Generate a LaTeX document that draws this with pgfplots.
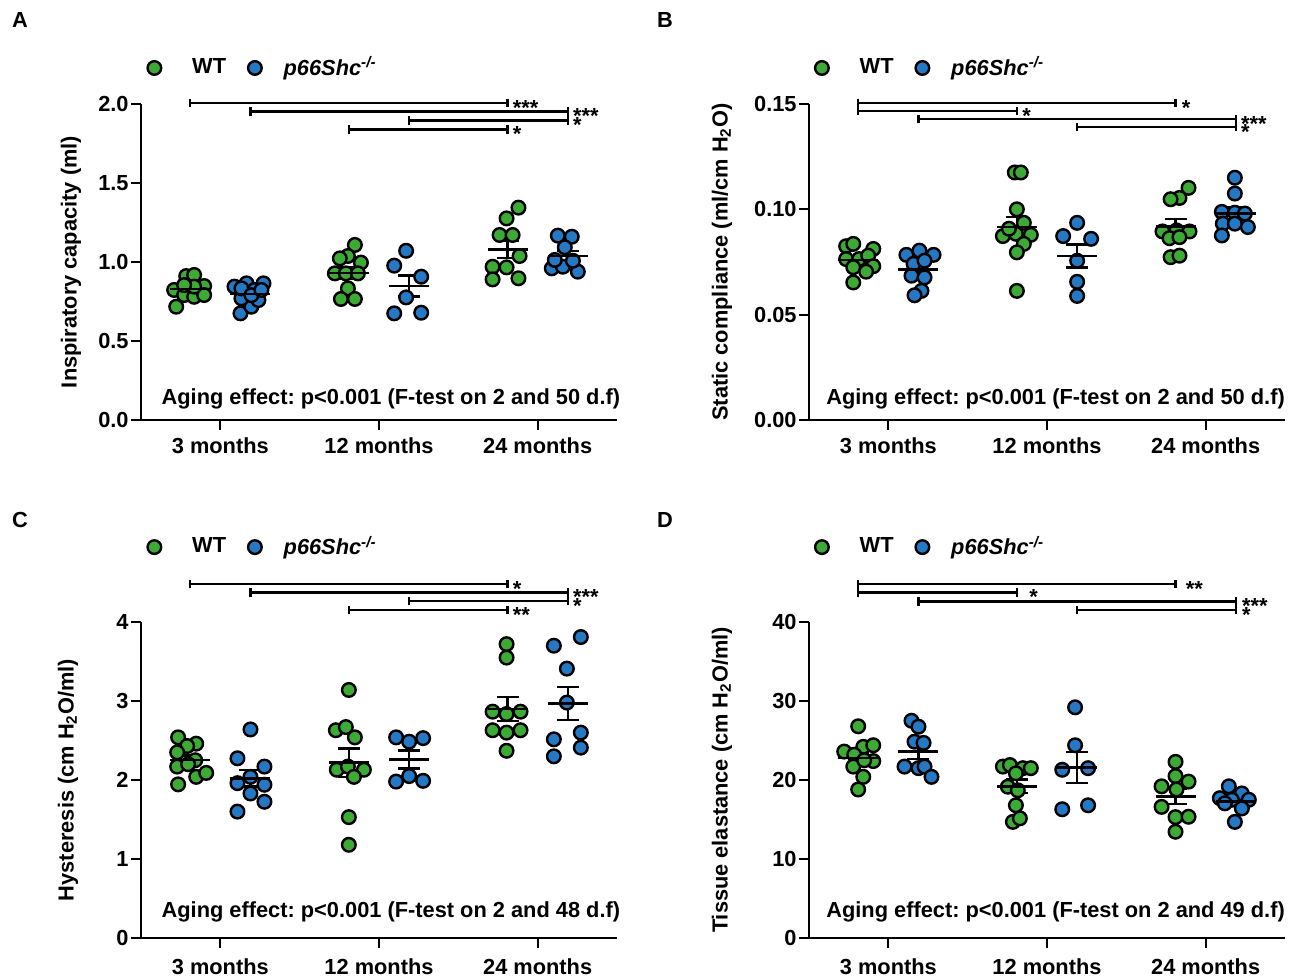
\documentclass[border=0pt]{standalone}
\usepackage{fontspec}
\setmainfont{Liberation Sans}
\usepackage{pgfplots}
\pgfplotsset{compat=1.18}

\definecolor{wtgreen}{RGB}{61,170,53}
\definecolor{koblue}{RGB}{36,120,196}

% significance bracket: x1, x2, y, stars, gap before stars
\newcommand{\sigbar}[5]{%
  \draw[line width=1.3pt] (axis cs:#1,#3) -- (axis cs:#2,#3);
  \draw[line width=1.2pt] ([yshift=-2.2pt]axis cs:#1,#3) -- ([yshift=2.2pt]axis cs:#1,#3);
  \draw[line width=1.2pt] ([yshift=-2.2pt]axis cs:#2,#3) -- ([yshift=2.2pt]axis cs:#2,#3);
  \node[anchor=west, inner sep=0pt, xshift=#5, yshift=-2.3pt] at (axis cs:#2,#3) {#4};}

\newcommand{\kolabel}{\hspace*{-4.5pt}\textit{p66Shc}\textsuperscript{\textit{-/-}}}

\pgfplotsset{
  panel/.style={
    scale only axis, width=238pt, height=158pt,
    xmin=0.5, xmax=3.5, ymin=0,
    axis lines*=left,
    axis line style={line width=1pt},
    tick align=outside, major tick length=5pt,
    tick style={line width=1pt, black},
    xtick={1,2,3}, xticklabels={3 months,12 months,24 months},
    /pgf/number format/assume math mode=true,
    tick label style={font=\bfseries},
    yticklabel style={inner sep=1pt},
    clip=false,
    legend columns=-1,
    legend style={draw=none, fill=none, inner sep=0pt, anchor=west,
      /tikz/every odd column/.append style={column sep=13.5pt},
      /tikz/every even column/.append style={column sep=9pt}},
  },
  wt/.style={only marks, mark=*, mark size=3.4pt, color=wtgreen,
    mark options={fill=wtgreen, draw=black, line width=1.2pt},
    legend image code/.code={\draw[##1] plot coordinates {(0pt,0pt)};}},
  ko/.style={only marks, mark=*, mark size=3.4pt, color=koblue,
    mark options={fill=koblue, draw=black, line width=1.2pt},
    legend image code/.code={\draw[##1] plot coordinates {(0pt,0pt)};}},
  meansem/.style={only marks, mark=-, mark size=10pt, black,
    mark options={black, line width=1.2pt},
    error bars/.cd, y dir=both, y explicit, error mark=-,
    error mark options={rotate=90, black, line width=1.2pt, mark size=5.5pt},
    error bar style={black, line width=1.2pt}},
}

\begin{document}
\frenchspacing
\fontsize{10.9}{13}\selectfont\bfseries
\begin{tikzpicture}
\path[use as bounding box] (0,0) rectangle (648pt,-490pt);
\node at (10pt,-10pt) {A};
\node at (332.5pt,-10pt) {B};
\node at (10pt,-260pt) {C};
\node at (332.5pt,-260pt) {D};

% ---------------- A ----------------
\begin{axis}[panel, at={(70.5pt,-210pt)}, anchor=south west,
  ymax=2, ytick={0,0.5,1,1.5,2},
  yticklabel style={/pgf/number format/.cd, fixed, fixed zerofill, precision=1},
  ylabel={Inspiratory capacity (ml)},
  ylabel style={at={([xshift=-35pt]rel axis cs:0,0.5)}, anchor=center},
  legend style={at={(rel axis cs:0.013,1.114)}}]
\addplot[wt] table {
x y
0.722 0.717
0.785 0.911
0.835 0.918
0.709 0.823
0.898 0.848
0.772 0.791
0.835 0.780
0.898 0.791
0.835 0.844
0.772 0.854
1.848 1.108
1.804 1.038
1.753 1.023
1.886 0.996
1.722 0.928
1.791 0.928
1.867 0.928
1.804 0.833
1.760 0.766
1.848 0.766
2.879 1.344
2.804 1.276
2.760 1.171
2.842 1.171
2.886 1.038
2.716 0.970
2.804 0.966
2.716 0.890
2.879 0.897
};
\addlegendentry{WT}
\addplot[ko] table {
x y
1.127 0.675
1.196 0.717
1.240 0.759
1.133 0.770
1.089 0.844
1.165 0.865
1.272 0.865
1.215 0.823
1.133 0.833
1.196 0.790
1.259 0.823
2.171 1.071
2.096 0.977
2.266 0.907
2.171 0.776
2.096 0.675
2.266 0.679
3.127 1.167
3.215 1.160
3.171 1.093
3.089 0.960
3.159 0.970
3.253 0.939
3.108 1.013
3.222 1.008
};
\addlegendentry{\kolabel}
\addplot[meansem] table[x=x, y=m, y error=s] {
x m s
0.81 0.828 0.019
1.19 0.797 0.018
1.81 0.931 0.036
2.19 0.848 0.067
2.81 1.080 0.055
3.19 1.039 0.032
};
\sigbar{0.81}{2.81}{2.006}{***}{2.5pt}
\sigbar{1.19}{3.19}{1.953}{***}{2.5pt}
\sigbar{2.19}{3.19}{1.896}{*}{2.5pt}
\sigbar{1.81}{2.81}{1.839}{*}{2.5pt}
\node[yshift=10.5pt] at (rel axis cs:0.525,0) {Aging effect: p<0.001 (F-test on 2 and 50 d.f)};
\end{axis}

% ---------------- B ----------------
\begin{axis}[panel, at={(404.5pt,-210pt)}, anchor=south west,
  ymax=0.15, ytick={0,0.05,0.1,0.15},
  yticklabel style={/pgf/number format/.cd, fixed, fixed zerofill, precision=2},
  ylabel={Static compliance (ml/cm H\textsubscript{2}O)},
  ylabel style={at={([xshift=-43.5pt]rel axis cs:0,0.5)}, anchor=center},
  legend style={at={(rel axis cs:0.012,1.114)}}]
\addplot[wt] table {
x y
0.734 0.0825
0.779 0.0836
0.905 0.0812
0.734 0.0764
0.816 0.0764
0.873 0.0780
0.779 0.0725
0.905 0.0730
0.860 0.0704
0.779 0.0653
1.797 0.1175
1.835 0.1175
1.810 0.1000
1.854 0.0936
1.722 0.0873
1.804 0.0884
1.898 0.0879
1.854 0.0836
1.810 0.0796
1.810 0.0613
1.760 0.0908
2.892 0.1102
2.835 0.1054
2.779 0.1048
2.728 0.0895
2.816 0.0900
2.898 0.0895
2.772 0.0863
2.835 0.0868
2.779 0.0773
2.835 0.0780
};
\addlegendentry{WT}
\addplot[ko] table {
x y
1.114 0.0784
1.196 0.0804
1.285 0.0784
1.159 0.0741
1.228 0.0756
1.146 0.0685
1.228 0.0677
1.209 0.0613
1.165 0.0592
2.190 0.0936
2.102 0.0873
2.278 0.0860
2.190 0.0756
2.190 0.0656
2.190 0.0589
3.184 0.1150
3.184 0.1075
3.102 0.0988
3.184 0.0984
3.247 0.0980
3.108 0.0932
3.184 0.0932
3.266 0.0916
3.102 0.0876
};
\addlegendentry{\kolabel}
\addplot[meansem] table[x=x, y=m, y error=s] {
x m s
0.81 0.0759 0.0018
1.19 0.0715 0.0026
1.81 0.0916 0.0049
2.19 0.0778 0.0055
2.81 0.0918 0.0036
3.19 0.0981 0.0028
};
\sigbar{0.81}{2.81}{0.1505}{*}{3pt}
\sigbar{0.81}{1.81}{0.1467}{*}{2.5pt}
\sigbar{1.19}{3.19}{0.1429}{***}{2.5pt}
\sigbar{2.19}{3.19}{0.1391}{*}{2.5pt}
\node[yshift=10.5pt] at (rel axis cs:0.518,0) {Aging effect: p<0.001 (F-test on 2 and 50 d.f)};
\end{axis}

% ---------------- C ----------------
\begin{axis}[panel, at={(70.5pt,-469pt)}, anchor=south west,
  ymax=4, ytick={0,1,2,3,4},
  xticklabel style={yshift=-1.5pt},
  ylabel={Hysteresis (cm H\textsubscript{2}O/ml)},
  ylabel style={at={([xshift=-36.5pt]rel axis cs:0,0.5)}, anchor=center},
  legend style={at={(rel axis cs:0.013,1.237)}}]
\addplot[wt] table {
x y
0.734 2.54
0.848 2.46
0.791 2.43
0.728 2.35
0.842 2.25
0.728 2.17
0.797 2.20
0.848 2.04
0.911 2.09
0.734 1.945
1.810 3.14
1.728 2.63
1.791 2.67
1.848 2.54
1.734 2.13
1.804 2.17
1.905 2.13
1.842 2.04
1.810 1.53
1.810 1.18
2.804 3.72
2.804 3.55
2.716 2.865
2.804 2.835
2.892 2.865
2.716 2.63
2.804 2.60
2.892 2.63
2.804 2.37
};
\addlegendentry{WT}
\addplot[ko] table {
x y
1.190 2.64
1.108 2.275
1.278 2.17
1.190 2.04
1.108 1.96
1.278 1.94
1.190 1.83
1.278 1.725
1.108 1.60
2.108 2.54
2.190 2.485
2.278 2.53
2.190 2.05
2.108 1.98
2.278 1.99
3.272 3.81
3.102 3.70
3.184 3.41
3.184 2.98
3.272 2.60
3.102 2.515
3.272 2.41
3.102 2.30
};
\addlegendentry{\kolabel}
\addplot[meansem] table[x=x, y=m, y error=s] {
x m s
0.81 2.25 0.061
1.19 2.02 0.104
1.81 2.22 0.180
2.19 2.26 0.115
2.81 2.90 0.150
3.19 2.97 0.210
};
\sigbar{0.81}{2.81}{4.48}{*}{2.5pt}
\sigbar{1.19}{3.19}{4.376}{***}{2.5pt}
\sigbar{2.19}{3.19}{4.266}{*}{2.5pt}
\sigbar{1.81}{2.81}{4.152}{**}{2.5pt}
\node[yshift=13pt] at (rel axis cs:0.525,0) {Aging effect: p<0.001 (F-test on 2 and 48 d.f)};
\end{axis}

% ---------------- D ----------------
\begin{axis}[panel, at={(404.5pt,-469pt)}, anchor=south west,
  ymax=40, ytick={0,10,20,30,40},
  xticklabel style={yshift=-1.5pt},
  ylabel={Tissue elastance (cm H\textsubscript{2}O/ml)},
  ylabel style={at={([xshift=-43.5pt]rel axis cs:0,0.5)}, anchor=center},
  legend style={at={(rel axis cs:0.012,1.237)}}]
\addplot[wt] table {
x y
0.810 26.8
0.722 23.6
0.842 24.2
0.905 24.4
0.785 23.2
0.905 22.4
0.779 21.7
0.842 20.4
0.810 18.8
0.848 22.5
1.722 21.7
1.766 21.9
1.848 21.5
1.898 21.5
1.804 20.85
1.753 19.15
1.816 18.7
1.804 16.8
1.785 14.7
1.829 15.15
2.810 22.3
2.810 20.5
2.722 19.2
2.892 19.8
2.816 18.8
2.722 16.6
2.810 15.3
2.892 15.35
2.810 13.45
};
\addlegendentry{WT}
\addplot[ko] table {
x y
1.146 27.5
1.190 26.75
1.165 24.85
1.222 24.7
1.102 21.7
1.190 21.5
1.228 21.7
1.272 20.4
2.177 29.2
2.177 24.4
2.096 21.3
2.259 21.5
2.096 16.3
2.259 16.8
3.146 19.2
3.228 18.3
3.089 17.7
3.165 17.5
3.272 17.5
3.121 17.05
3.228 16.4
3.184 14.7
};
\addlegendentry{\kolabel}
\addplot[meansem] table[x=x, y=m, y error=s] {
x m s
0.81 22.8 0.70
1.19 23.6 0.94
1.81 19.2 0.88
2.19 21.6 1.97
2.81 17.9 0.96
3.19 17.3 0.47
};
\sigbar{0.81}{2.81}{44.8}{**}{5pt}
\sigbar{0.81}{1.81}{43.7}{*}{6pt}
\sigbar{1.19}{3.19}{42.57}{***}{3pt}
\sigbar{2.19}{3.19}{41.52}{*}{3pt}
\node[yshift=13pt] at (rel axis cs:0.518,0) {Aging effect: p<0.001 (F-test on 2 and 49 d.f)};
\end{axis}
\end{tikzpicture}
\end{document}
